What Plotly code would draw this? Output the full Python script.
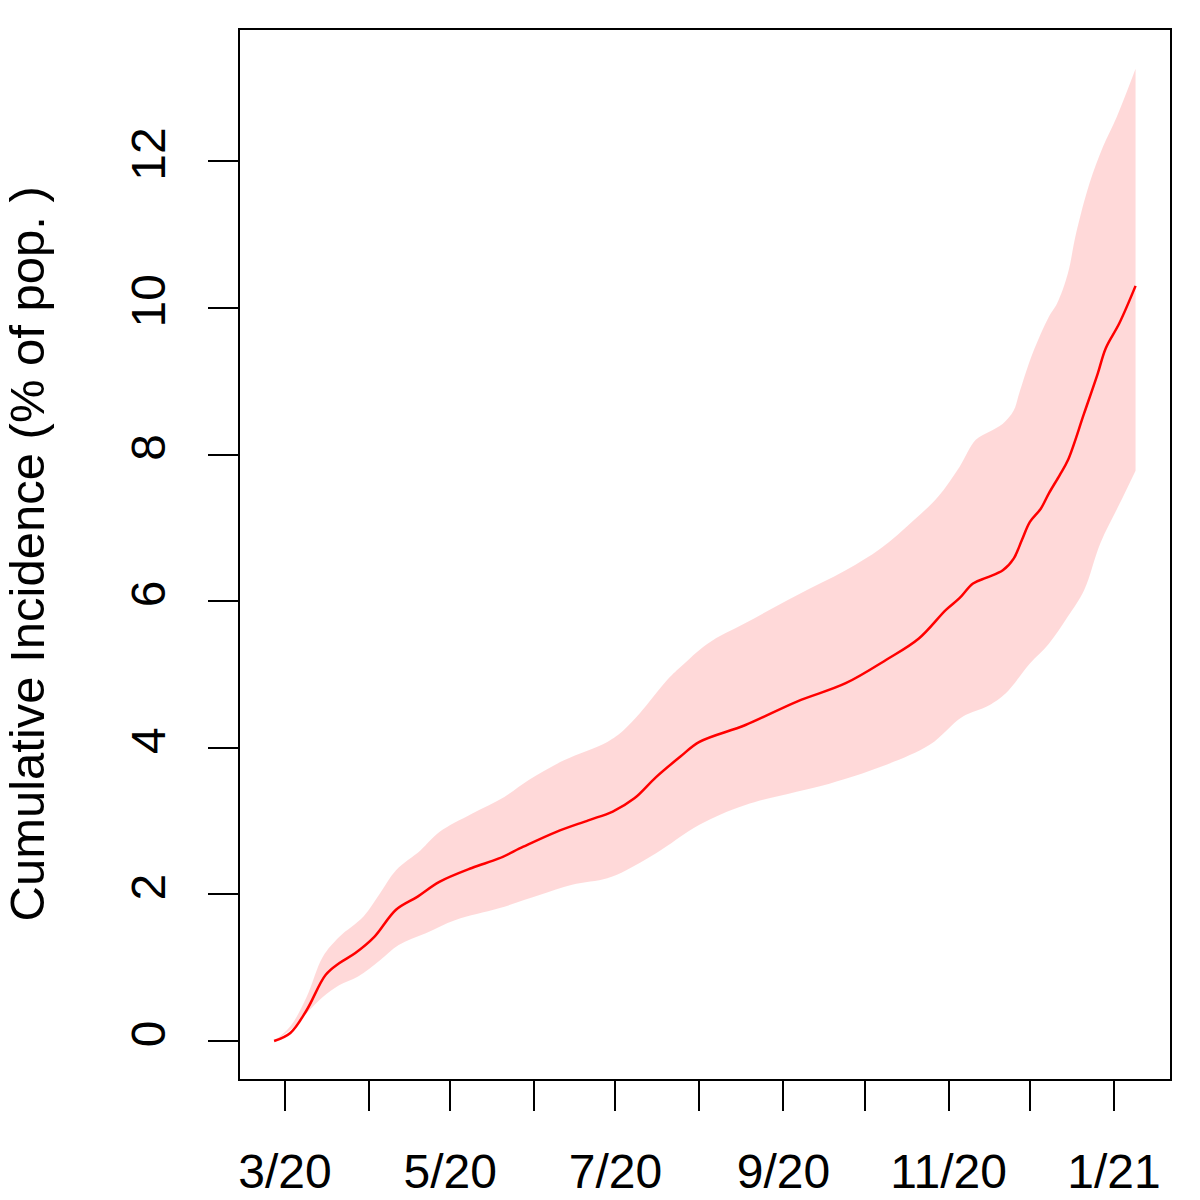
import plotly.graph_objects as go

# central estimate
mean_dates = ["2020-02-26", "2020-03-03", "2020-03-09", "2020-03-16", "2020-03-21",
              "2020-03-27", "2020-04-03", "2020-04-11", "2020-04-19", "2020-04-27",
              "2020-05-09", "2020-05-19", "2020-05-28", "2020-06-09", "2020-06-21",
              "2020-06-30", "2020-07-08", "2020-07-16", "2020-07-25", "2020-08-01",
              "2020-08-18", "2020-09-06", "2020-09-24", "2020-10-09", "2020-10-21",
              "2020-10-31", "2020-11-05", "2020-11-10", "2020-11-15", "2020-11-21",
              "2020-11-25", "2020-11-28", "2020-12-01", "2020-12-05", "2020-12-08",
              "2020-12-12", "2020-12-15", "2020-12-21", "2020-12-26", "2020-12-29",
              "2021-01-03", "2021-01-09"]
mean_vals = [0.00, 0.11, 0.42, 0.90, 1.06, 1.20, 1.42, 1.79, 1.97, 2.17,
             2.36, 2.49, 2.65, 2.85, 3.01, 3.13, 3.31, 3.60, 3.88, 4.08,
             4.31, 4.63, 4.88, 5.20, 5.49, 5.88, 6.04, 6.24, 6.32, 6.42,
             6.58, 6.83, 7.08, 7.26, 7.47, 7.72, 7.92, 8.56, 9.10, 9.45,
             9.79, 10.30]

# upper bound of the interval
upper_dates = ["2020-02-26", "2020-03-03", "2020-03-09", "2020-03-15", "2020-03-21",
               "2020-03-30", "2020-04-05", "2020-04-11", "2020-04-20", "2020-04-27",
               "2020-05-09", "2020-05-21", "2020-05-30", "2020-06-12", "2020-06-28",
               "2020-07-04", "2020-07-10", "2020-07-20", "2020-07-25", "2020-08-04",
               "2020-08-18", "2020-09-06", "2020-09-24", "2020-10-07", "2020-10-19",
               "2020-10-28", "2020-11-05", "2020-11-11", "2020-11-16", "2020-11-21",
               "2020-11-25", "2020-11-27", "2020-12-02", "2020-12-08", "2020-12-11",
               "2020-12-15", "2020-12-18", "2020-12-23", "2020-12-28", "2021-01-02",
               "2021-01-09"]
upper_vals = [0.00, 0.20, 0.60, 1.15, 1.42, 1.70, 2.01, 2.33, 2.60, 2.85,
              3.10, 3.33, 3.56, 3.83, 4.08, 4.24, 4.47, 4.92, 5.10, 5.42,
              5.70, 6.08, 6.42, 6.72, 7.10, 7.42, 7.83, 8.20, 8.31, 8.42,
              8.60, 8.83, 9.38, 9.88, 10.06, 10.47, 11.01, 11.70, 12.20, 12.60,
              13.26]

# lower bound of the interval
lower_dates = ["2020-02-26", "2020-03-03", "2020-03-09", "2020-03-15", "2020-03-21",
               "2020-03-28", "2020-04-05", "2020-04-12", "2020-04-22", "2020-05-03",
               "2020-05-19", "2020-06-03", "2020-06-15", "2020-06-28", "2020-07-05",
               "2020-07-16", "2020-08-01", "2020-08-18", "2020-09-18", "2020-10-07",
               "2020-10-25", "2020-11-06", "2020-11-16", "2020-11-22", "2020-12-01",
               "2020-12-08", "2020-12-15", "2020-12-21", "2020-12-27", "2021-01-03",
               "2021-01-09"]
lower_vals = [0.00, 0.15, 0.38, 0.60, 0.76, 0.88, 1.10, 1.31, 1.47, 1.65,
              1.81, 1.99, 2.13, 2.22, 2.33, 2.56, 2.95, 3.22, 3.51, 3.74,
              4.04, 4.42, 4.58, 4.74, 5.15, 5.42, 5.79, 6.15, 6.79, 7.32,
              7.78]

month_ticks = ["2020-03-01", "2020-04-01", "2020-05-01", "2020-06-01", "2020-07-01",
               "2020-08-01", "2020-09-01", "2020-10-01", "2020-11-01", "2020-12-01",
               "2021-01-01"]
month_labels = ["3/20", "", "5/20", "", "7/20", "", "9/20", "", "11/20", "", "1/21"]
y_ticks = [0, 2, 4, 6, 8, 10, 12]

font = "Liberation Sans, Arial, Helvetica, sans-serif"

fig = go.Figure()

# lower edge first, then the upper edge filled down to it
fig.add_trace(go.Scatter(
    x=lower_dates, y=lower_vals, mode="lines",
    line=dict(width=0, shape="spline", smoothing=1.0),
    hoverinfo="skip", showlegend=False))
fig.add_trace(go.Scatter(
    x=upper_dates, y=upper_vals, mode="lines", fill="tonexty",
    fillcolor="rgba(255,0,0,0.15)",
    line=dict(width=0, shape="spline", smoothing=1.0),
    hoverinfo="skip", showlegend=False))

fig.add_trace(go.Scatter(
    x=mean_dates, y=mean_vals, mode="lines",
    line=dict(color="#ff0000", width=2.5, shape="spline", smoothing=1.0),
    showlegend=False))

axis_common = dict(showgrid=False, zeroline=False, showline=True, mirror=True,
                   linecolor="black", linewidth=2, ticks="outside", ticklen=30,
                   tickwidth=2, tickcolor="black", automargin=False,
                   tickfont=dict(family=font, size=48, color="black"))

# the page body adds 8px, so the figure is 1192 wide/high
fig.update_layout(
    width=1192, height=1192,
    margin=dict(l=232, r=30, t=22, b=121),
    paper_bgcolor="white", plot_bgcolor="white",
    xaxis=dict(range=["2020-02-13 10:00", "2021-01-21 17:00"],
               tickvals=month_ticks, ticktext=month_labels,
               ticklabelstandoff=19, **axis_common),
    yaxis=dict(range=[-0.518, 13.79], tickvals=y_ticks, tickangle=-90,
               ticklabelstandoff=24, **axis_common),
    annotations=[dict(text="Cumulative Incidence (% of pop. )", xref="paper", yref="paper",
                      x=(26 - 240) / 930, y=0.5, xanchor="center", yanchor="middle",
                      textangle=-90, showarrow=False,
                      font=dict(family=font, size=49, color="black"))],
)

fig.write_html("out.html")
